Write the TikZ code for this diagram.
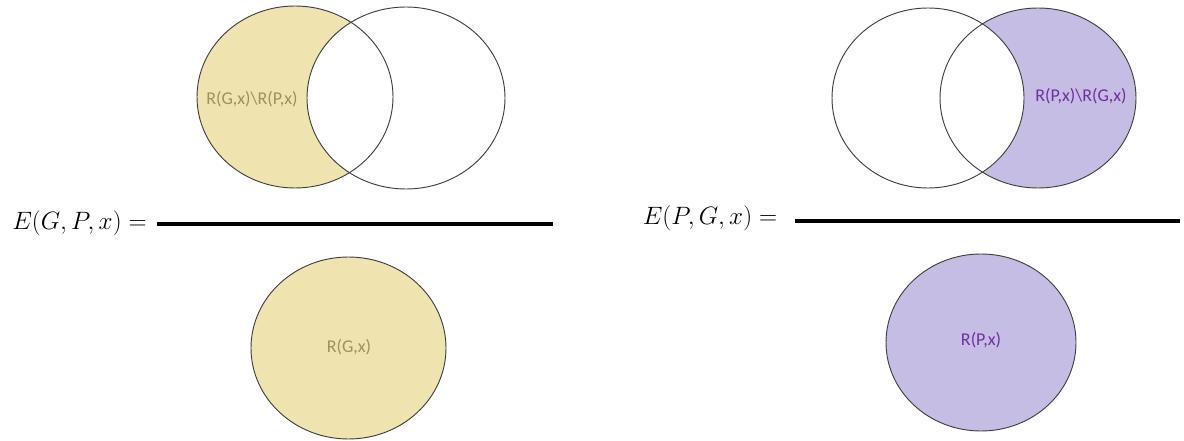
\documentclass[tikz,border=0pt]{standalone}
\usepackage{fontspec}
\setsansfont{Carlito}
\begin{document}
\begin{tikzpicture}[x=0.75pt,y=-0.75pt,
  outline/.style={draw=black!75,line width=0.7pt},
  tanfill/.style={fill=tanbg},
  purfill/.style={fill=purbg},
  tanlabel/.style={font=\sffamily\fontsize{13.5}{15}\selectfont,text=tantext,inner sep=0pt},
  purlabel/.style={font=\sffamily\fontsize{13.5}{15}\selectfont,text=purtext,inner sep=0pt},
  eqlabel/.style={font=\fontsize{17.28}{20}\selectfont,inner sep=0pt},
  barline/.style={line width=2.3pt,black}]
\definecolor{tanbg}{RGB}{239,227,175}
\definecolor{tantext}{RGB}{160,145,95}
\definecolor{purbg}{RGB}{197,189,228}
\definecolor{purtext}{RGB}{112,48,160}
\useasboundingbox (0,0) rectangle (1184,441);
% ---------- left fraction ----------
\fill[tanbg] (295,97) ellipse [x radius=98, y radius=91];
\fill[white] (406,98) ellipse [x radius=99, y radius=91];
\draw[outline] (295,97) ellipse [x radius=98, y radius=91];
\draw[outline] (406,98) ellipse [x radius=99, y radius=91];
\node[tanlabel] (lnum) at (252,99) {R(G,x)\textbackslash R(P,x)};
\node[eqlabel] (leq) at (79.5,223) {\scalebox{1.09}{$E(G,P,x) =$}};
\coordinate (l1) at (157,224);
\coordinate (l2) at (553,224);
\draw[barline] (l1) -- (l2);
\draw[outline,tanfill] (348.5,348) ellipse [x radius=97.5, y radius=91];
\node[tanlabel] (lden) at (349,347) {R(G,x)};
% ---------- right fraction ----------
\fill[purbg] (1038,98) ellipse [x radius=98, y radius=90];
\fill[white] (928,98) ellipse [x radius=96, y radius=90];
\draw[outline] (928,98) ellipse [x radius=96, y radius=90];
\draw[outline] (1038,98) ellipse [x radius=98, y radius=90];
\node[purlabel] (rnum) at (1081,96) {R(P,x)\textbackslash R(G,x)};
\node[eqlabel] (req) at (710,218) {\scalebox{1.09}{$E(P,G,x) =$}};
\coordinate (r1) at (795,221);
\coordinate (r2) at (1180,221);
\draw[barline] (r1) -- (r2);
\draw[outline,purfill] (981,342.5) ellipse [x radius=95, y radius=88.5];
\node[purlabel] (rden) at (981,340) {R(P,x)};
\end{tikzpicture}
\end{document}
